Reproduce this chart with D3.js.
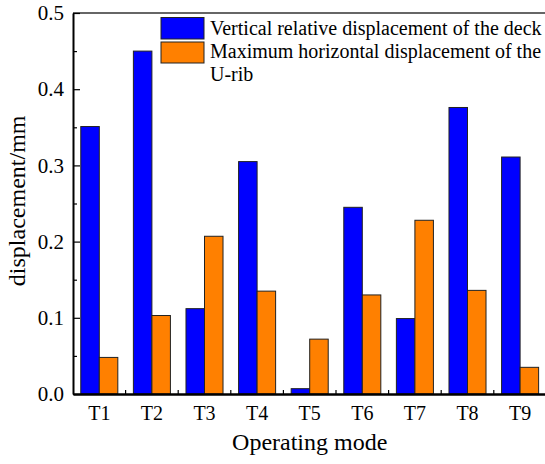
<!DOCTYPE html>
<html>
<head>
<meta charset="utf-8">
<script src="https://cdn.jsdelivr.net/npm/d3@7"></script>
<style>
  body { margin: 0; background: #fff; }
  svg text { font-family: "Liberation Serif", "Times New Roman", serif; fill: #000; }
</style>
</head>
<body>
<div class="canvas"></div>
<script>
// data
var categories = ["T1", "T2", "T3", "T4", "T5", "T6", "T7", "T8", "T9"]
var vertical   = [0.351, 0.450, 0.112, 0.305, 0.007, 0.245, 0.099, 0.376, 0.311]
var horizontal = [0.048, 0.103, 0.207, 0.135, 0.072, 0.130, 0.228, 0.136, 0.035]
var seriesNames = ["Vertical relative displacement of the deck",
                   "Maximum horizontal displacement of the U-rib"]
var seriesKeys = ["vertical", "horizontal"]
var yTicks = [0.0, 0.1, 0.2, 0.3, 0.4, 0.5]
var yMinor = [0.05, 0.15, 0.25, 0.35, 0.45]

var colors = {vertical: "#0000ff", horizontal: "#ff8000"}
var serif = '"Liberation Serif", "Times New Roman", serif'

var svg = d3.select(".canvas").append("svg").attr("width", 545).attr("height", 464)

left = 73
right = 546.4
top_ = 13
bottom = 394

var rows = categories.map(function(c, i) {
    return {cat: c, vertical: vertical[i], horizontal: horizontal[i]}
})

var x = d3.scaleBand().domain(categories).range([left, right])
    .paddingInner(0.296).paddingOuter(0.148)
var x1 = d3.scaleBand().domain(seriesKeys).range([0, x.bandwidth()])
var y = d3.scaleLinear().domain([0, 0.5]).range([bottom, top_])

// bars
var groups = svg.append("g").selectAll("g")
    .data(rows).enter().append("g")
    .attr("transform", function(d) { return "translate(" + x(d.cat) + ",0)" })

groups.selectAll("rect")
    .data(function(d) { return seriesKeys.map(function(k) { return {key: k, value: d[k]} }) })
    .enter().append("rect")
    .attr("x", function(d) { return x1(d.key) })
    .attr("y", function(d) { return y(d.value) })
    .attr("width", x1.bandwidth())
    .attr("height", function(d) { return bottom - y(d.value) })
    .attr("fill", function(d) { return colors[d.key] })
    .attr("stroke", "#222")
    .attr("stroke-width", 1)

// top frame line
svg.append("line")
    .attr("x1", left).attr("x2", right)
    .attr("y1", top_).attr("y2", top_)
    .attr("stroke", "#333").attr("stroke-width", 1.5)

// y axis
var yAxis = svg.append("g")
    .attr("transform", "translate(" + left + ",0)")
    .call(d3.axisLeft(y).tickValues(yTicks).tickFormat(d3.format(".1f"))
        .tickSizeInner(-7).tickSizeOuter(0).tickPadding(9))
yAxis.attr("font-family", null).attr("font-size", null)
yAxis.select(".domain").attr("stroke", "#000").attr("stroke-width", 2)
yAxis.selectAll("text").style("font-size", "21px").style("font-family", serif)
yAxis.selectAll(".tick line").attr("stroke-width", 1.2)

var yAxisMinor = svg.append("g")
    .attr("transform", "translate(" + left + ",0)")
    .call(d3.axisLeft(y).tickValues(yMinor).tickFormat("")
        .tickSizeInner(-4).tickSizeOuter(0))
yAxisMinor.select(".domain").remove()
yAxisMinor.selectAll(".tick line").attr("stroke-width", 1.2)

// x axis
var xAxis = svg.append("g")
    .attr("transform", "translate(0," + bottom + ")")
    .call(d3.axisBottom(x).tickSize(0).tickPadding(12))
xAxis.attr("font-family", null).attr("font-size", null)
xAxis.select(".domain").attr("stroke", "#000").attr("stroke-width", 2.5)
xAxis.selectAll("text").style("font-size", "20px").style("font-family", serif)

// small ticks between the groups
var gap = (x.step() - x.bandwidth()) / 2
svg.append("g").selectAll("line")
    .data(categories.slice(1)).enter().append("line")
    .attr("x1", function(d) { return x(d) - gap })
    .attr("x2", function(d) { return x(d) - gap })
    .attr("y1", bottom)
    .attr("y2", bottom - 4)
    .attr("stroke", "#000").attr("stroke-width", 1.2)

// axis titles
svg.append("text")
    .attr("x", (left + right) / 2)
    .attr("y", 450)
    .attr("text-anchor", "middle")
    .style("font-size", "24px").style("font-family", serif)
    .text("Operating mode")

svg.append("text")
    .attr("transform", "translate(25," + ((111.7 + 290) / 2) + ") rotate(-90)")
    .attr("text-anchor", "middle")
    .style("font-size", "24px").style("font-family", serif)
    .text("displacement/mm")

// legend
var legend = svg.append("g")
legend.append("rect")
    .attr("x", 161).attr("y", 17.5).attr("width", 43).attr("height", 21.5)
    .attr("fill", colors.vertical).attr("stroke", "#222")
legend.append("rect")
    .attr("x", 161).attr("y", 42).attr("width", 43).attr("height", 21)
    .attr("fill", colors.horizontal).attr("stroke", "#222")

var legendLines = [seriesNames[0], "Maximum horizontal displacement of the", "U-rib"]
legend.selectAll("text").data(legendLines).enter().append("text")
    .attr("x", 210)
    .attr("y", function(d, i) { return 35 + i * 23 })
    .style("font-size", "20px").style("font-family", serif)
    .text(function(d) { return d })
</script>
</body>
</html>
